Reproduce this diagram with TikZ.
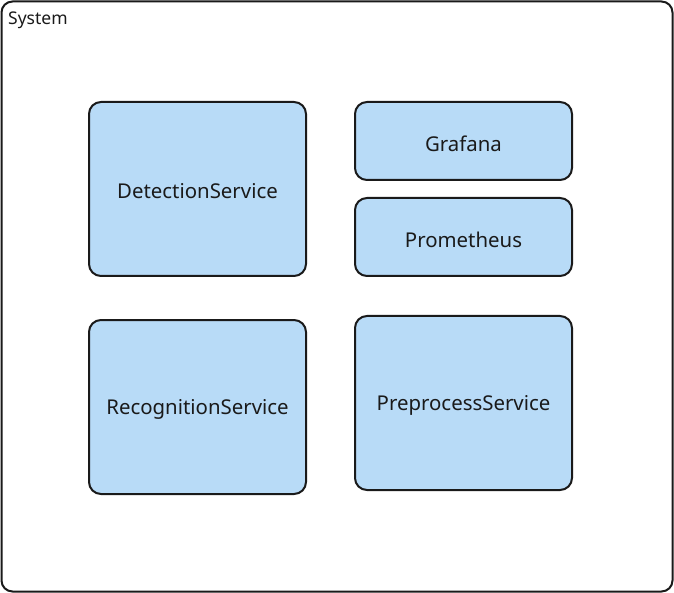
\documentclass[tikz,border=0pt]{standalone}
\usepackage{fontspec}
\setmainfont{Noto Sans}
\definecolor{boxfill}{HTML}{B8DBF7}
\definecolor{edge}{HTML}{1A1A1A}
\begin{document}
\begin{tikzpicture}[x=1pt,y=-1pt,
  svc/.style={draw=edge,fill=boxfill,line width=2pt,rounded corners=12pt,font=\fontsize{20.4}{24}\selectfont,text=edge},
  lbl/.style={midway,draw=none,fill=none,yshift=-2.5pt}]
\useasboundingbox (0,0) rectangle (674,593);
\draw[edge,line width=2pt,rounded corners=11pt] (1.5,1.5) rectangle (672.5,591.5);
\node[anchor=west,inner sep=0pt,font=\fontsize{17.5}{20}\selectfont,text=edge] (sys) at (8,20.5) {System};
\draw[svc] (89,102) rectangle (306,276) node[lbl] (det) {DetectionService};
\draw[svc] (355,102) rectangle (572,180) node[lbl] (gra) {Grafana};
\draw[svc] (355,198) rectangle (572,276) node[lbl] (pro) {Prometheus};
\draw[svc] (89,320) rectangle (306,494) node[lbl] (rec) {RecognitionService};
\draw[svc] (355,316) rectangle (572,490) node[lbl] (pre) {PreprocessService};
\end{tikzpicture}
\end{document}
